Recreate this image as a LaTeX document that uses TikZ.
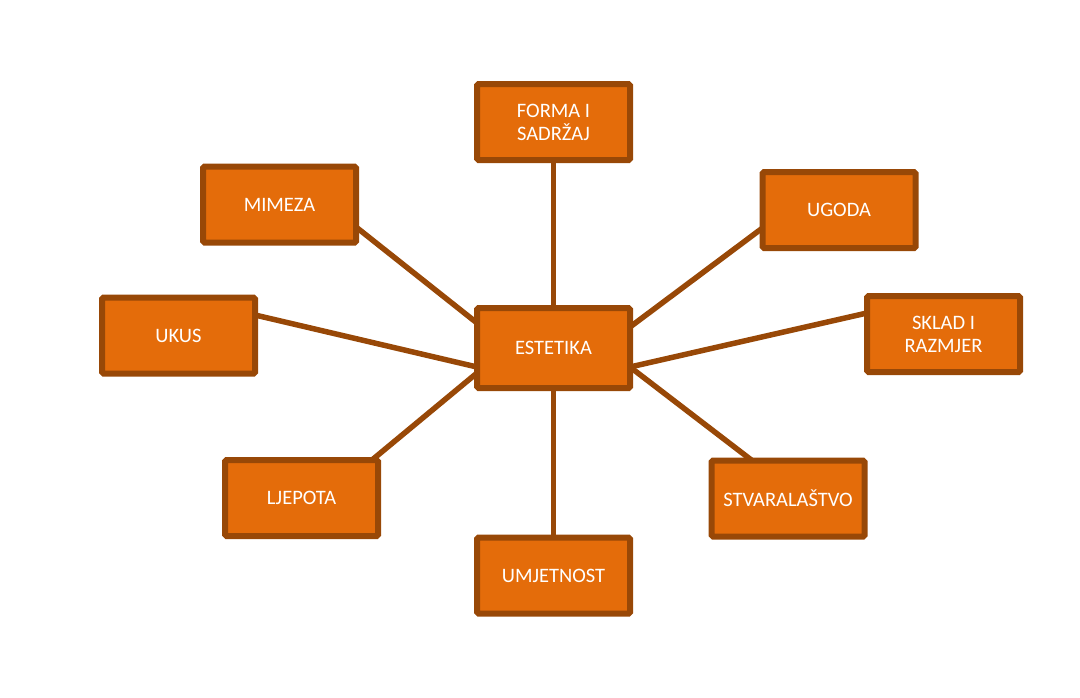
\documentclass[tikz,border=0pt]{standalone}
\usepackage{fontspec}
\setmainfont{Carlito}
\usetikzlibrary{backgrounds}
\definecolor{boxfill}{HTML}{E46C0A}
\definecolor{boxline}{HTML}{984807}
\tikzset{
  topic/.style={draw=boxline, fill=boxfill, line width=6pt, rounded corners=1.5pt,
    minimum width=153pt, minimum height=76pt, inner sep=0pt, outer sep=0pt,
    text=white, align=center,
    font=\fontsize{20.5}{23}\selectfont},
  link/.style={draw=boxline, line width=5.5pt}
}
\begin{document}
\begin{tikzpicture}[x=1pt, y=-1pt]
\useasboundingbox (0,0) rectangle (1080,697);
\node[topic, minimum height=80pt] (est) at (553.5,348) {ESTETIKA};
\node[topic] (forma) at (553.5,122) {FORMA I\\SADRŽAJ};
\node[topic] (mim) at (279.5,204.5) {MIMEZA};
\node[topic] (ugoda) at (839,210) {UGODA};
\node[topic] (ukus) at (178.5,335.5) {UKUS};
\node[topic] (sklad) at (943.5,334) {SKLAD I\\RAZMJER};
\node[topic] (ljep) at (301.5,498) {LJEPOTA};
\node[topic] (stvar) at (788,498.5) {STVARALAŠTVO};
\node[topic] (umj) at (553.5,575.5) {UMJETNOST};
\begin{scope}[on background layer]
\draw[link] (forma.south) -- (est.north);
\draw[link] (est.south) -- (umj.north);
\draw[link] ([yshift=-22.5pt]mim.east) -- ([yshift=25pt]est.west);
\draw[link] ([yshift=20.5pt]ukus.east) -- ([yshift=-19pt]est.west);
\draw[link] ([xshift=70.5pt]ljep.north) -- ([yshift=-25pt]est.west);
\draw[link] ([yshift=-18pt]ugoda.west) -- ([yshift=21pt]est.east);
\draw[link] ([yshift=21pt]sklad.west) -- ([yshift=-19pt]est.east);
\draw[link] ([xshift=-36pt]stvar.north) -- ([yshift=-19pt]est.east);
\end{scope}
\end{tikzpicture}
\end{document}
